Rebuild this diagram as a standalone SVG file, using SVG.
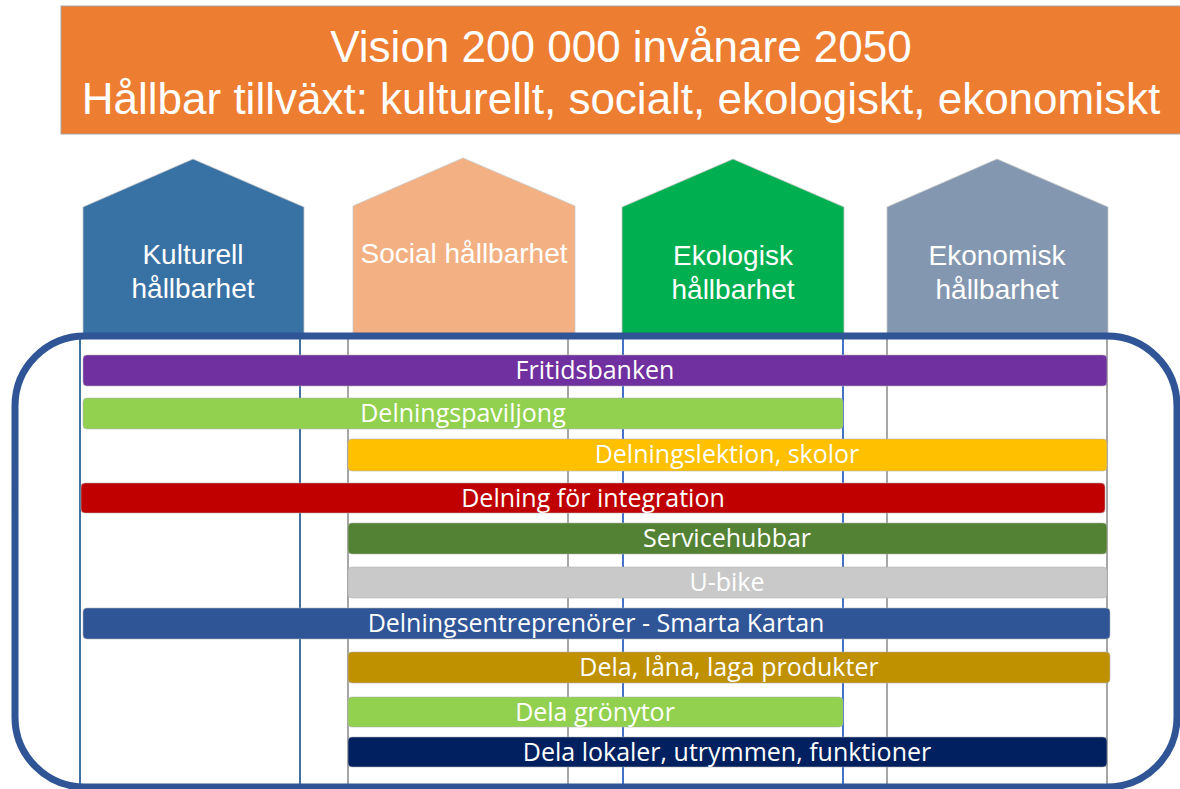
<svg xmlns="http://www.w3.org/2000/svg" width="1180" height="789" viewBox="0 0 1180 789">
<style>
.title{font-family:"Liberation Sans",Arial,sans-serif;font-size:44px;fill:#fff;text-anchor:middle}
.htxt{font-family:"Liberation Sans",Arial,sans-serif;font-size:28px;fill:#fff;text-anchor:middle}
.btxt{font-family:"Open Sans","Noto Sans",sans-serif;font-size:25px;fill:#fff;text-anchor:middle}
.bar{stroke:#b0b0b0;stroke-width:0.8;stroke-opacity:0.7}
.house{stroke:#c8c8c8;stroke-width:0.8}
.v{stroke-width:2}
</style>
<rect width="1180" height="789" fill="#fff"/>
<g id="banner">
<rect x="61" y="6" width="1130" height="128" fill="#ED7D31" stroke="#A5A5A5" stroke-width="1"/>
<text class="title" x="621" y="62">Vision 200 000 invånare 2050</text>
<text class="title" x="621" y="114">Hållbar tillväxt: kulturellt, socialt, ekologiskt, ekonomiskt</text>
</g>
<g id="house-kulturell">
<polygon class="house" points="83,334 83,207 193,159 304,207 304,334" fill="#3871A4"/>
<text class="htxt" x="193" y="264">Kulturell</text>
<text class="htxt" x="193" y="298">hållbarhet</text>
</g>
<g id="house-social">
<polygon class="house" points="353,334 353,206 463,158 575,206 575,334" fill="#F3B183"/>
<text class="htxt" x="464" y="263">Social hållbarhet</text>
</g>
<g id="house-ekologisk">
<polygon class="house" points="622,334 622,207 733,159 844,207 844,334" fill="#00AF50"/>
<text class="htxt" x="733" y="265">Ekologisk</text>
<text class="htxt" x="733" y="299">hållbarhet</text>
</g>
<g id="house-ekonomisk">
<polygon class="house" points="887,334 887,207 997,159 1108,207 1108,334" fill="#8497B0"/>
<text class="htxt" x="997" y="265">Ekonomisk</text>
<text class="htxt" x="997" y="299">hållbarhet</text>
</g>
<g id="connectors">
<line class="v" x1="80" y1="336" x2="80" y2="789" stroke="#41719C"/>
<line class="v" x1="300" y1="336" x2="300" y2="789" stroke="#41719C"/>
<line class="v" x1="348" y1="336" x2="348" y2="789" stroke="#A6A6A6"/>
<line class="v" x1="568" y1="336" x2="568" y2="789" stroke="#A6A6A6"/>
<line class="v" x1="623" y1="336" x2="623" y2="789" stroke="#4472C4"/>
<line class="v" x1="843" y1="336" x2="843" y2="789" stroke="#4472C4"/>
<line class="v" x1="887" y1="336" x2="887" y2="789" stroke="#A6A6A6"/>
<line class="v" x1="1107" y1="336" x2="1107" y2="789" stroke="#A6A6A6"/>
</g>
<g id="bar-fritidsbanken">
<rect class="bar" x="83" y="355" width="1024" height="31" rx="4" fill="#7030A0"/>
<text class="btxt" x="595" y="379">Fritidsbanken</text>
</g>
<g id="bar-delningspaviljong">
<rect class="bar" x="83" y="398" width="760" height="31" rx="4" fill="#92D050"/>
<text class="btxt" x="463" y="422">Delningspaviljong</text>
</g>
<g id="bar-delningslektion">
<rect class="bar" x="348" y="439" width="759" height="32" rx="4" fill="#FFC000"/>
<text class="btxt" x="727" y="463">Delningslektion, skolor</text>
</g>
<g id="bar-integration">
<rect class="bar" x="81" y="483" width="1024" height="30" rx="4" fill="#C00000"/>
<text class="btxt" x="593" y="507">Delning för integration</text>
</g>
<g id="bar-servicehubbar">
<rect class="bar" x="348" y="523" width="759" height="31" rx="4" fill="#548235"/>
<text class="btxt" x="727" y="547">Servicehubbar</text>
</g>
<g id="bar-ubike">
<rect class="bar" x="348" y="567" width="759" height="31" rx="4" fill="#C9C9C9"/>
<text class="btxt" x="727" y="591">U-bike</text>
</g>
<g id="bar-entreprenorer">
<rect class="bar" x="83" y="608" width="1027" height="31" rx="4" fill="#2F5597"/>
<text class="btxt" x="596" y="632">Delningsentreprenörer - Smarta Kartan</text>
</g>
<g id="bar-produkter">
<rect class="bar" x="348" y="652" width="762" height="31" rx="4" fill="#BF9000"/>
<text class="btxt" x="729" y="676">Dela, låna, laga produkter</text>
</g>
<g id="bar-gronytor">
<rect class="bar" x="348" y="697" width="495" height="30" rx="4" fill="#92D050"/>
<text class="btxt" x="595" y="721">Dela grönytor</text>
</g>
<g id="bar-lokaler">
<rect class="bar" x="348" y="737" width="759" height="30" rx="4" fill="#002060"/>
<text class="btxt" x="727" y="761">Dela lokaler, utrymmen, funktioner</text>
</g>
<g id="frame">
<rect x="15" y="336" width="1162" height="451" rx="70" ry="70" fill="none" stroke="#2F5597" stroke-width="7"/>
</g>
</svg>
